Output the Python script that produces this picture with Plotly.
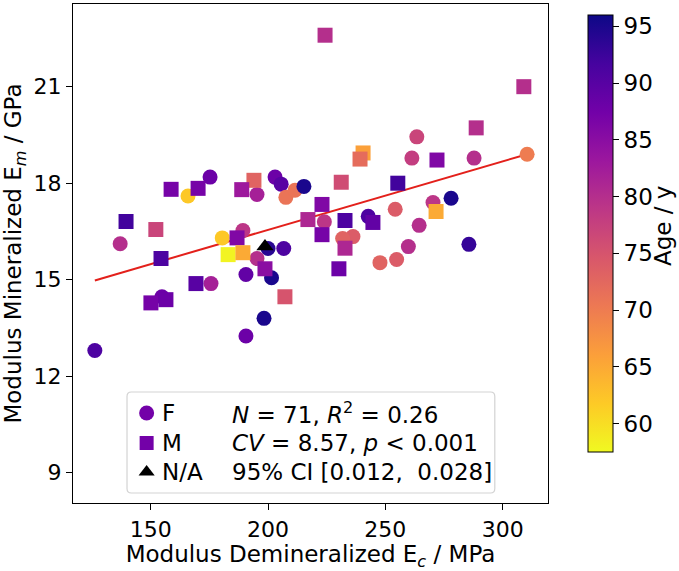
import numpy as np
import plotly.graph_objects as go

# ---- data ----
f_x = [263.4, 310.4, 261.3, 287.8, 254.2, 242.7, 270.3, 278.0, 264.4, 236.2, 231.8, 259.8, 254.8, 247.7, 285.6,
       195.3, 203.0, 205.6, 207.6, 211.5, 215.3, 224.0, 189.3, 180.5, 200.0, 206.7, 195.3, 190.6, 201.5, 198.3, 190.6,
       175.3, 165.9, 137.0, 175.7, 154.8, 126.2]
f_y = [19.44, 18.90, 18.78, 18.78, 17.19, 16.97, 17.40, 17.53, 16.69, 16.34, 16.28, 16.03, 15.63, 15.53, 16.10,
       17.65, 18.19, 17.97, 17.56, 17.78, 17.90, 16.80, 16.53, 16.30, 15.97, 15.97, 15.66, 15.16, 15.06, 13.80, 13.25,
       18.19, 17.60, 16.12, 14.88, 14.47, 12.80]
f_age = [77, 70, 78, 80, 74, 91, 79, 95, 80, 74, 73, 80, 74, 73, 93,
         82, 88, 90, 71, 71, 95, 79, 79, 62, 94, 91, 80, 89, 95, 95, 88,
         88, 62, 80, 82, 88, 91]

m_x = [224.3, 309.0, 288.7, 240.5, 239.2, 272.0, 231.2, 255.3, 271.6, 244.7, 232.8, 232.8, 230.2,
       194.0, 188.8, 223.0, 217.0, 223.0, 186.8, 183.0, 189.3, 198.7, 207.2,
       158.7, 170.2, 139.5, 152.2, 154.4, 169.3, 150.1, 156.5]
m_y = [22.60, 21.00, 19.72, 18.94, 18.75, 18.72, 18.03, 18.00, 17.12, 16.78, 16.84, 15.98, 15.34,
       18.09, 17.80, 17.34, 16.87, 16.40, 16.30, 15.78, 15.84, 15.34, 14.47,
       17.81, 17.84, 16.81, 16.56, 15.66, 14.88, 14.28, 14.38]
m_age = [80, 80, 80, 66, 72, 86, 76, 92, 65, 89, 91, 81, 88,
         73, 83, 86, 81, 87, 86, 58, 65, 85, 75,
         87, 87, 92, 77, 91, 90, 87, 88]

na_x = [198.7]
na_y = [16.03]

fit_intercept = 12.29
fit_slope = 0.0213

x_ticks = [150, 200, 250, 300]
y_ticks = [9, 12, 15, 18, 21]
cb_ticks = [60, 65, 70, 75, 80, 85, 90, 95]

legend_names = ["F", "M", "N/A"]
stats_lines = ["<i>N</i> = 71, <i>R</i><sup>2</sup> = 0.26",
               "<i>CV</i> = 8.57, <i>p</i> &lt; 0.001",
               "95% CI [0.012,&nbsp; 0.028]"]

# ---- figure ----
FONT = "DejaVu Sans"
CMIN, CMAX = 57.5, 96
fig = go.Figure()

all_x = f_x + m_x + na_x
xl = np.array([min(all_x), max(all_x)])
fig.add_trace(go.Scatter(x=xl, y=fit_intercept + fit_slope * xl, mode="lines",
                         line=dict(color="#e3201b", width=2), showlegend=False, hoverinfo="skip"))

fig.add_trace(go.Scatter(x=f_x, y=f_y, mode="markers", showlegend=False,
                         marker=dict(symbol="circle", size=15, color=f_age, colorscale="Plasma",
                                     reversescale=True, cmin=CMIN, cmax=CMAX, line=dict(width=0),
                                     opacity=1, showscale=True,
                                     colorbar=dict(x=1.0632, xanchor="left", y=0.998, yanchor="top",
                                                   len=0.916, lenmode="fraction", thickness=25,
                                                   outlinewidth=1, outlinecolor="black",
                                                   tickvals=cb_ticks, ticks="outside", ticklen=6,
                                                   tickcolor="black",
                                                   tickfont=dict(family=FONT, size=23, color="black")))))
fig.add_trace(go.Scatter(x=m_x, y=m_y, mode="markers", showlegend=False,
                         marker=dict(symbol="square", size=15, color=m_age, colorscale="Plasma",
                                     reversescale=True, cmin=CMIN, cmax=CMAX, line=dict(width=0),
                                     opacity=1)))
fig.add_trace(go.Scatter(x=na_x, y=na_y, mode="markers", showlegend=False,
                         marker=dict(symbol="triangle-up", size=15, color="black", line=dict(width=0),
                                     opacity=1)))

# colorbar title
fig.add_annotation(xref="paper", yref="paper", x=1.242, y=0.555, text="Age / y", textangle=-90,
                   showarrow=False, xanchor="center", yanchor="middle",
                   font=dict(family=FONT, size=23, color="black"))

# ---- legend (drawn in an invisible overlay axis spanning the plot area) ----
leg_sym = ["circle", "square", "triangle-up"]
leg_col = ["#7301a8", "#7301a8", "#000000"]
row_y = [0.1804, 0.1202, 0.0621]
box_x0, box_x1, box_y0, box_y1 = 0.1137, 0.888, 0.02, 0.2224
rx, ry = 0.009, 0.009
path = (f"M {box_x0+rx},{box_y0} L {box_x1-rx},{box_y0} Q {box_x1},{box_y0} {box_x1},{box_y0+ry} "
        f"L {box_x1},{box_y1-ry} Q {box_x1},{box_y1} {box_x1-rx},{box_y1} "
        f"L {box_x0+rx},{box_y1} Q {box_x0},{box_y1} {box_x0},{box_y1-ry} "
        f"L {box_x0},{box_y0+ry} Q {box_x0},{box_y0} {box_x0+rx},{box_y0} Z")
fig.add_shape(type="path", path=path, xref="paper", yref="paper",
              line=dict(color="#d3d3d3", width=1.2), fillcolor="white", layer="below")

fig.add_trace(go.Scatter(x=[0.155] * 3, y=row_y, xaxis="x2", yaxis="y2", mode="markers",
                         showlegend=False, hoverinfo="skip", opacity=1,
                         marker=dict(symbol=leg_sym, size=[15, 14, 14], color=leg_col,
                                     line=dict(width=0), opacity=1)))
for nm, yy in zip(legend_names, row_y):
    fig.add_annotation(xref="paper", yref="paper", x=0.183, y=yy, text=nm, showarrow=False,
                       xanchor="left", yanchor="middle", font=dict(family=FONT, size=23, color="black"))
for txt, yy in zip(stats_lines, row_y):
    fig.add_annotation(xref="paper", yref="paper", x=0.3305, y=yy, text=txt, showarrow=False,
                       xanchor="left", yanchor="middle",
                       font=dict(family=FONT, size=23, color="black"))

fig.update_layout(
    width=679, height=571,
    margin=dict(l=73, r=131, t=4, b=68, autoexpand=False),
    paper_bgcolor="white", plot_bgcolor="white",
    font=dict(family=FONT, size=22, color="black"),
    showlegend=False,
    xaxis=dict(range=[116.9, 319.3], tickvals=x_ticks, ticks="outside", ticklen=6, tickcolor="black",
               showline=True, linecolor="black", linewidth=1.3, mirror=True, showgrid=False, zeroline=False,
               tickfont=dict(family=FONT, size=22),
               title=dict(text="Modulus Demineralized E<sub><i>c</i></sub> / MPa", standoff=6,
                          font=dict(family=FONT, size=23))),
    yaxis=dict(range=[8.06, 23.57], tickvals=y_ticks, ticks="outside", ticklen=6, tickcolor="black",
               showline=True, linecolor="black", linewidth=1.3, mirror=True, showgrid=False, zeroline=False,
               tickfont=dict(family=FONT, size=22),
               title=dict(text="Modulus Mineralized E<sub><i>m</i></sub> / GPa", standoff=10,
                          font=dict(family=FONT, size=23))),
    xaxis2=dict(overlaying="x", anchor="y2", range=[0, 1], visible=False, fixedrange=True),
    yaxis2=dict(overlaying="y", anchor="x2", range=[0, 1], visible=False, fixedrange=True),
)

fig.write_html("out.html", config={"displayModeBar": False},
               post_script="document.body.style.margin='0';document.body.style.overflow='hidden';")
